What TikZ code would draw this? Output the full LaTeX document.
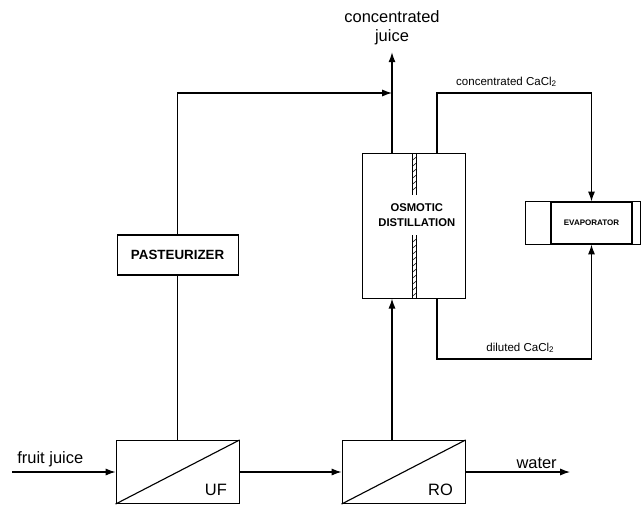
\documentclass[tikz,border=0pt]{standalone}
\usepackage{fontspec}
\setmainfont{Liberation Sans}
\usetikzlibrary{arrows.meta,positioning,calc}

\begin{document}
\begin{tikzpicture}[
    >={Latex[length=7pt,width=5pt]},
    line width=0.8pt,
    lbl/.style={font=\fontsize{11.7}{13.5}\selectfont, inner sep=1pt, align=center},
    small/.style={font=\fontsize{8.2}{9}\selectfont, inner sep=1pt},
    unit/.style={draw, minimum width=3.075cm, minimum height=1.575cm, inner sep=0pt},
    proc/.style={draw, align=center, inner sep=0pt, font=\bfseries\fontsize{9.5}{11}\selectfont}
]
    \useasboundingbox (0,0) rectangle (16.025,-12.675);

    % membrane units
    \node[unit] (uf) at (4.44,-11.8) {};
    \node[unit] (ro) at (10.09,-11.8) {};
    \draw (uf.south west) -- (uf.north east);
    \draw (ro.south west) -- (ro.north east);
    \node[lbl, anchor=south east] (uftxt) at ($(uf.south east)+(-0.27,0.15)$) {UF};
    \node[lbl, anchor=south east] (rotxt) at ($(ro.south east)+(-0.27,0.15)$) {RO};

    \node[proc, minimum width=3.025cm, minimum height=1cm] (past) at (4.44,-6.375) {PASTEURIZER};

    % osmotic distillation with hatched membrane
    \node[draw, minimum width=2.575cm, minimum height=3.625cm] (od) at (10.34,-5.64) {};
    \node[align=center, inner sep=0pt, font=\bfseries\fontsize{8}{10.5}\selectfont] (odtxt) at (10.42,-5.375) {OSMOTIC\\DISTILLATION};
    \foreach \ya/\yb in {-3.825/-4.875, -5.875/-7.45} {
        \draw[line width=0.6pt] (10.31,\ya) -- (10.31,\yb);
        \draw[line width=0.6pt] (10.41,\ya) -- (10.41,\yb);
        \foreach \t in {0.1,0.25,...,1.6} {
            \pgfmathsetmacro{\yy}{\ya-\t}
            \pgfmathparse{\yy>\yb+0.08 ? 1 : 0}
            \ifnum\pgfmathresult=1
                \draw[line width=0.4pt] (10.31,\yy-0.08) -- (10.41,\yy);
            \fi
        }
    }

    % evaporator
    \node[draw, minimum width=2.025cm, minimum height=1.05cm, inner sep=0pt, font=\bfseries\fontsize{5.7}{7}\selectfont] (evap) at (14.7875,-5.575) {EVAPORATOR};
    \draw (evap.north west) -- ++(-0.625,0) |- (evap.south west);
    \draw (evap.north east) -- ++(0.2,0) |- (evap.south east);

    \coordinate (fin) at (0.3,-11.8);
    \coordinate (wout) at (14.25,-11.8);
    \coordinate (jx) at (9.8,-2.325);
    \coordinate (cx) at (10.925,-2.325);
    \coordinate (low) at (10.925,-8.975);

    \node[lbl] (cjuice) at (9.8,-0.69) {concentrated\\juice};

    \draw[->] (fin) -- node[lbl, pos=0.37, above=2pt] (fjtxt) {fruit juice} (uf.west);
    \draw[->] (uf) -- (ro);
    \draw[->] (ro.east) -- node[lbl, pos=0.68, above=1pt] (wtxt) {water} (wout);
    \draw (uf.north) -- (past.south);
    \draw[->] (past.north) |- (jx);
    \draw[->] (ro.north -| jx) -- (od.south -| jx);
    \draw (od.north -| jx) -- (jx);
    \draw[->, shorten >=4pt] (jx) -- (cjuice);
    \draw[->] (od.north -| cx) -- (cx) -| node[small, pos=0.225, above=3pt] (cctxt) {concentrated CaCl\textsubscript{2}} (evap.north);
    \draw[->] (od.south -| low) -- (low) -| node[small, pos=0.27, above=3pt] (dltxt) {diluted CaCl\textsubscript{2}} (evap.south);

\end{tikzpicture}
\end{document}
